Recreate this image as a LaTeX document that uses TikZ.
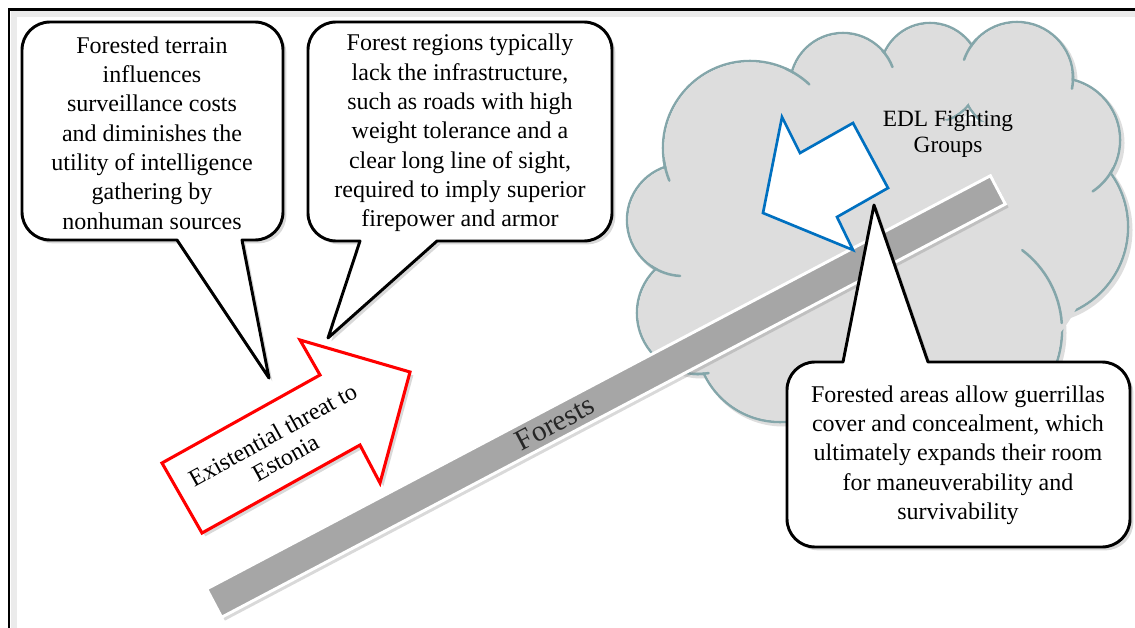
\documentclass[tikz,border=0pt]{standalone}
\usepackage{fontspec}
\setmainfont{Liberation Serif}
\usetikzlibrary{shadows}
\definecolor{cloudfill}{RGB}{221,221,221}
\definecolor{cloudline}{RGB}{132,166,170}
\definecolor{cloudshadow}{RGB}{222,222,222}
\definecolor{barfill}{RGB}{166,166,166}
\definecolor{blueA}{RGB}{0,112,192}
\begin{document}
\begin{tikzpicture}[x=0.75pt,y=-0.75pt,
  callout/.style={draw=black, line width=2.2pt, fill=white, line join=round,
    drop shadow={opacity=0.3, shadow xshift=2.5pt, shadow yshift=-2.5pt}},
  ctext/.style={align=center, font=\fontsize{18}{22}\selectfont, inner sep=0pt},
  cstroke/.style={draw=cloudline, line width=1.9pt},
  cfill/.style={fill=cloudfill},
  stub/.style={draw=cloudline, line width=1.9pt, line cap=round},
  barst/.style={fill=barfill, draw=white, line width=2.2pt,
    drop shadow={opacity=0.3, shadow xshift=2.5pt, shadow yshift=-2.5pt}},
  redarrow/.style={draw=red, line width=2.3pt, fill=white, line join=miter,
    drop shadow={opacity=0.3, shadow xshift=2.5pt, shadow yshift=-2.5pt}},
  bluearrow/.style={draw=blueA, line width=2pt, fill=white, line join=miter}
]
\useasboundingbox (0,0) rectangle (1135,628);
% frame
\draw[black!8, line width=4pt] (14,628) -- (14,14) -- (1135,14);
\draw[line width=2.2pt] (9,628) -- (9,9.5) -- (1135,9.5);

% cloud: shadow, strokes, then fills
\foreach \cx/\cy/\r in {683/220/56, 750/148/87, 843/86/53, 930/73/50, 1017/78/56,
   1058/140/62, 1036/227/92, 962/330/100, 780/338/84, 698/313/61}
  \fill[cloudshadow] (\cx+3,\cy+3) circle[radius=\r+1.5];
\foreach \cx/\cy/\r in {683/220/56, 750/148/87, 843/86/53, 930/73/50, 1017/78/56,
   1058/140/62, 1036/227/92, 962/330/100, 780/338/84, 698/313/61}
  \draw[cstroke] (\cx,\cy) circle[radius=\r];
\foreach \cx/\cy/\r in {683/220/56, 750/148/87, 843/86/53, 930/73/50, 1017/78/56,
   1058/140/62, 1036/227/92, 962/330/100, 780/338/84, 698/313/61}
  \fill[cfill] (\cx,\cy) circle[radius=\r-1.3];
\fill[cfill] (870,250) circle[radius=150];
\fill[cfill] (960,250) circle[radius=130];
% interior stubs
\draw[stub] ([shift={(125:56)}]683,220) arc[start angle=125, end angle=93, radius=56];
\draw[stub] ([shift={(-66:87)}]750,148) arc[start angle=-66, end angle=-47, radius=87];
\draw[stub] ([shift={(172:87)}]750,148) arc[start angle=172, end angle=158, radius=87];
\draw[stub] ([shift={(-42:53)}]843,86) arc[start angle=-42, end angle=-21, radius=53];
\draw[stub] ([shift={(224:56)}]1017,78) arc[start angle=224, end angle=199, radius=56];
\draw[stub] ([shift={(-6:56)}]1017,78) arc[start angle=-6, end angle=11, radius=56];
\draw[stub] ([shift={(27:62)}]1058,140) arc[start angle=27, end angle=56, radius=62];
\draw[stub] ([shift={(-4:100)}]962,330) arc[start angle=-4, end angle=-53, radius=100];
\draw[stub] ([shift={(95:61)}]698,313) arc[start angle=95, end angle=80, radius=61];

\node[font=\fontsize{17.5}{19}\selectfont, align=center, inner sep=0pt] (edl) at (948,134) {EDL Fighting\\Groups};

% forests bar
\node[barst, rotate=27.8, minimum width=664.5pt, minimum height=24pt, inner sep=0pt] (bar) at (606,396.5) {};
\node[rotate=27.8, font=\fontsize{22}{24}\selectfont, text=black!85, inner sep=0pt] (forests) at (555,423) {Forests};

% blue arrow
\path[bluearrow] (763,213) -- (782,117) -- (800,153) -- (853,123) -- (888,188) -- (837,217) -- (853,250) -- cycle;

% red arrow
\path[redarrow] (162,463) -- (320,375) -- (300,340) -- (410,372) -- (380,483) -- (360,445) -- (202,533) -- cycle;
\node[rotate=29, align=center, font=\fontsize{18}{19.5}\selectfont, inner sep=0pt] (threat) at (279,446) {Existential threat to\\Estonia};

% callout 1
\path[callout] (177,240) -- (50,240) arc[start angle=90,end angle=180,radius=28]
  -- (22,50) arc[start angle=180,end angle=270,radius=28]
  -- (255,22) arc[start angle=270,end angle=360,radius=28]
  -- (283,212) arc[start angle=0,end angle=90,radius=28]
  -- (242,240) -- (269,378) -- cycle;
\node[ctext] (c1) at (152,133) {Forested terrain\\influences\\surveillance costs\\and diminishes the\\utility of intelligence\\gathering by\\nonhuman sources};

% callout 2
\path[callout] (360,241) -- (336,241) arc[start angle=90,end angle=180,radius=28]
  -- (308,50) arc[start angle=180,end angle=270,radius=28]
  -- (584,22) arc[start angle=270,end angle=360,radius=28]
  -- (612,213) arc[start angle=0,end angle=90,radius=28]
  -- (437,241) -- (328,338) -- cycle;
\node[ctext] (c2) at (460,133) {Forest regions typically\\lack the infrastructure,\\such as roads with high\\weight tolerance and a\\clear long line of sight,\\required to imply superior\\firepower and armor};

% callout 3
\path[callout] (928,362) -- (1102,362) arc[start angle=270,end angle=360,radius=28]
  -- (1130,519) arc[start angle=0,end angle=90,radius=28]
  -- (815,547) arc[start angle=90,end angle=180,radius=28]
  -- (787,390) arc[start angle=180,end angle=270,radius=28]
  -- (843,362) -- (874,205) -- cycle;
\node[ctext] (c3) at (958,455) {Forested areas allow guerrillas\\cover and concealment, which\\ultimately expands their room\\for maneuverability and\\survivability};
\end{tikzpicture}
\end{document}
